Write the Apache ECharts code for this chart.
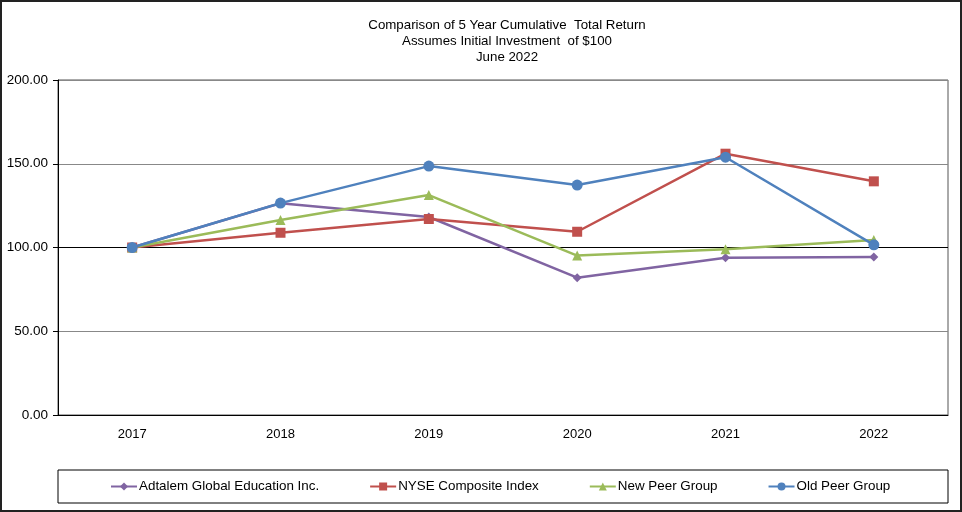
<!DOCTYPE html>
<html>
<head>
<meta charset="utf-8">
<script src="https://cdn.jsdelivr.net/npm/echarts@6/dist/echarts.min.js"></script>
<style>html,body{margin:0;padding:0;background:#fff}#c{width:962px;height:512px}</style>
</head>
<body>
<div id="c"></div>
<script>
const categories = ['2017', '2018', '2019', '2020', '2021', '2022'];
const adtalem = [100, 126.4, 118.2, 82.0, 93.9, 94.4];
const nyse = [100, 108.8, 117.0, 109.4, 156.0, 139.5];
const newPeer = [100, 116.4, 131.3, 95.2, 98.9, 104.5];
const oldPeer = [100, 126.5, 148.6, 137.3, 153.9, 101.6];
const yTicks = [0, 50, 100, 150, 200];
const titleLines = ['Comparison of 5 Year Cumulative  Total Return', 'Assumes Initial Investment  of $100', 'June 2022'];

const FONT = 'Liberation Sans, Arial, sans-serif';
const chart = echarts.init(document.getElementById('c'), null, {renderer: 'canvas'});
function mk(name, data, color, symbol, size) {
  return {
    name, type: 'line', data, symbol, symbolSize: size,
    lineStyle: {color, width: 2.5}, itemStyle: {color},
    emphasis: {disabled: true}, animation: false, z: 3
  };
}
chart.setOption({
  animation: false,
  backgroundColor: '#fff',
  textStyle: {fontFamily: FONT},
  title: {
    text: titleLines.join('\n'), left: 507, top: 17, padding: 0, textAlign: 'center',
    textStyle: {fontSize: 13.3, fontWeight: 'normal', color: '#000', lineHeight: 16, fontFamily: FONT}
  },
  grid: {left: 58, top: 80, right: 14, bottom: 97, show: true, borderColor: '#555', borderWidth: 1, containLabel: false},
  xAxis: {
    type: 'category', data: categories, boundaryGap: true,
    axisLine: {lineStyle: {color: '#000', width: 1}},
    axisTick: {alignWithLabel: true, length: 4, lineStyle: {color: '#000'}},
    axisLabel: {color: '#000', fontSize: 13, margin: 13, fontFamily: FONT}
  },
  yAxis: {
    type: 'value', min: 0, max: 200, interval: 50,
    axisLine: {show: true, lineStyle: {color: '#000', width: 1}},
    axisTick: {show: true, length: 5, lineStyle: {color: '#000'}},
    axisLabel: {color: '#000', fontSize: 13.5, margin: 10, fontFamily: FONT, formatter: v => yTicks.indexOf(v) >= 0 ? v.toFixed(2) : ''},
    splitLine: {show: true, lineStyle: {color: ['#888', '#888', '#000', '#888', '#888'], width: 1}}
  },
  legend: {
    top: 480, itemGap: 50, itemWidth: 26, itemHeight: 10,
    padding: 0, left: 110,
    textStyle: {fontSize: 13.4, color: '#000', fontFamily: FONT, padding: [0, 0, 0, -3]},
    data: ['Adtalem Global Education Inc.', 'NYSE Composite Index', 'New Peer Group', 'Old Peer Group']
  },
  graphic: [
    {type: 'rect', shape: {x: 58, y: 470, width: 890, height: 33}, style: {fill: 'none', stroke: '#000', lineWidth: 1}, silent: true},
    {type: 'rect', shape: {x: 1, y: 1, width: 960, height: 510}, style: {fill: 'none', stroke: '#222', lineWidth: 2}, silent: true}
  ],
  series: [
    mk('Adtalem Global Education Inc.', adtalem, '#8064A2', 'diamond', 9),
    mk('NYSE Composite Index', nyse, '#C0504D', 'rect', 10),
    mk('New Peer Group', newPeer, '#9BBB59', 'triangle', 10),
    mk('Old Peer Group', oldPeer, '#4F81BD', 'circle', 11)
  ]
});
</script>
</body>
</html>
